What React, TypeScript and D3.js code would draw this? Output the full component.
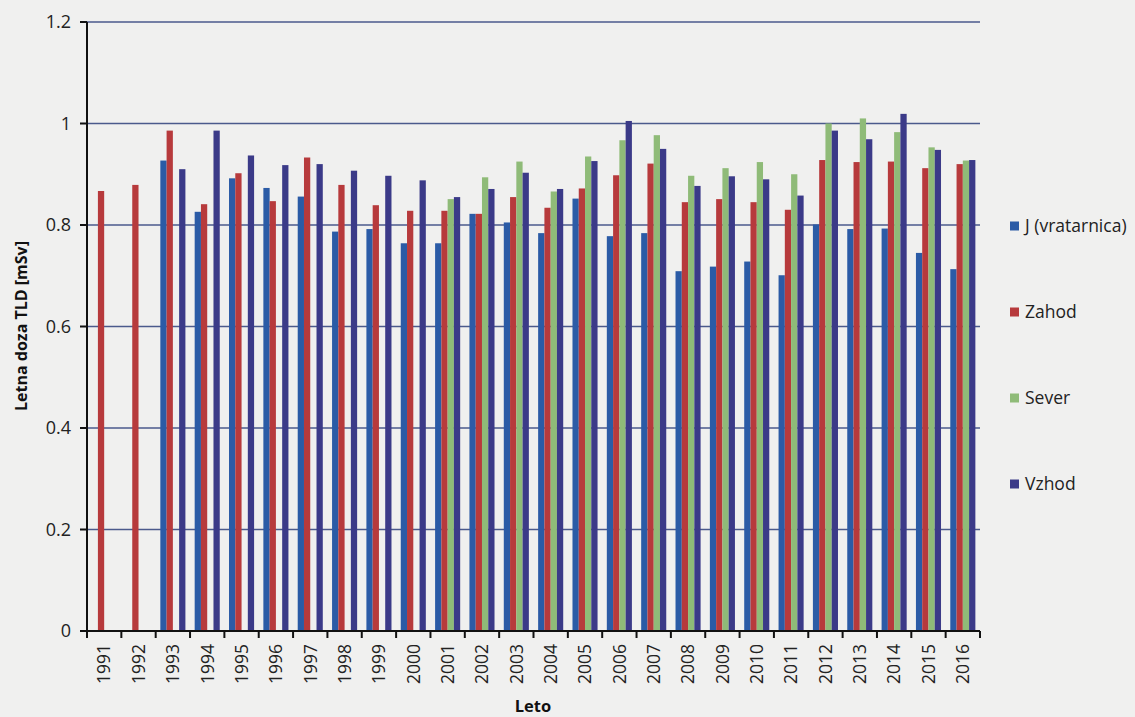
import React from "react";
import * as d3 from "d3";

const years = ["1991","1992","1993","1994","1995","1996","1997","1998","1999","2000","2001","2002","2003","2004","2005","2006","2007","2008","2009","2010","2011","2012","2013","2014","2015","2016"];
const seriesNames = ["J (vratarnica)", "Zahod", "Sever", "Vzhod"];
const jVals: (number | null)[] = [null, null, 0.927, 0.826, 0.892, 0.873, 0.856, 0.787, 0.792, 0.764, 0.764, 0.822, 0.805, 0.784, 0.852, 0.778, 0.784, 0.709, 0.718, 0.728, 0.701, 0.801, 0.792, 0.793, 0.745, 0.713];
const zahodVals: (number | null)[] = [0.867, 0.879, 0.986, 0.841, 0.902, 0.847, 0.933, 0.879, 0.839, 0.828, 0.828, 0.822, 0.855, 0.834, 0.872, 0.898, 0.921, 0.845, 0.851, 0.845, 0.830, 0.928, 0.924, 0.925, 0.912, 0.920];
const severVals: (number | null)[] = [null, null, null, null, null, null, null, null, null, null, 0.851, 0.894, 0.925, 0.866, 0.935, 0.967, 0.977, 0.897, 0.912, 0.924, 0.900, 1.000, 1.010, 0.983, 0.953, 0.927];
const vzhodVals: (number | null)[] = [null, null, 0.910, 0.986, 0.937, 0.918, 0.920, 0.907, 0.897, 0.888, 0.855, 0.871, 0.903, 0.871, 0.926, 1.005, 0.950, 0.877, 0.896, 0.890, 0.858, 0.986, 0.969, 1.019, 0.948, 0.928];
const yTicks = [0, 0.2, 0.4, 0.6, 0.8, 1, 1.2];
const colors = ["#2b5ba6", "#b73a3c", "#8fbb78", "#3b3a88"];

const W = 1135, H = 717;
const left = 87, right = 980, top = 22, bottom = 631;
const font = "'Open Sans', 'DejaVu Sans', sans-serif";

export default function App() {
  const allSeries = [jVals, zahodVals, severVals, vzhodVals];
  const x = d3.scaleBand<string>().domain(years).range([left, right]).paddingInner(0.27).paddingOuter(0.135);
  const inner = d3.scaleBand<number>().domain([0, 1, 2, 3]).range([0, x.bandwidth()]);
  const y = d3.scaleLinear().domain([0, 1.2]).range([bottom, top]);
  const step = (right - left) / years.length;

  return (
    <svg width={W} height={H} style={{ display: "block", position: "absolute", left: 0, top: 0, background: "#f0f0ef" }}>
      <rect x={0} y={0} width={W} height={H} fill="#f0f0ef" />
      {yTicks.filter(t => t > 0).map(t => (
        <line key={t} x1={left} x2={right} y1={y(t)} y2={y(t)} stroke="#4b5a8c" strokeWidth={1.6} />
      ))}
      {allSeries.map((vals, si) =>
        vals.map((v, i) => v == null ? null : (
          <rect key={`${si}-${i}`} x={(x(years[i]) as number) + (inner(si) as number)} y={y(v)}
            width={inner.bandwidth()} height={bottom - y(v)} fill={colors[si]} />
        ))
      )}
      <line x1={left} x2={left} y1={top} y2={bottom} stroke="#111" strokeWidth={2} />
      <line x1={left} x2={right} y1={bottom} y2={bottom} stroke="#111" strokeWidth={2} />
      {yTicks.map(t => (
        <g key={t}>
          <line x1={left - 7} x2={left} y1={y(t)} y2={y(t)} stroke="#111" strokeWidth={2} />
          <text x={71} y={y(t)} dy="0.35em" textAnchor="end" fontFamily={font} fontSize={18} fill="#222">{t === 0 ? "0" : t === 1 ? "1" : t.toFixed(1)}</text>
        </g>
      ))}
      {d3.range(years.length + 1).map(i => (
        <line key={i} x1={left + i * step} x2={left + i * step} y1={bottom} y2={bottom + 7} stroke="#111" strokeWidth={2} />
      ))}
      {years.map(yr => {
        const cx = (x(yr) as number) + x.bandwidth() / 2;
        return (
          <text key={yr} transform={`translate(${cx},${644}) rotate(-90)`} textAnchor="end" dy="0.36em"
            fontFamily={font} fontSize={17.5} fill="#222">{yr}</text>
        );
      })}
      <text transform={`translate(21,${326}) rotate(-90)`} textAnchor="middle" dy="0.35em"
        fontFamily={font} fontSize={16} fontWeight="bold" fill="#111">Letna doza TLD [mSv]</text>
      <text x={533} y={712} textAnchor="middle" fontFamily={font} fontSize={16.5} fontWeight="bold" fill="#111">Leto</text>
      {seriesNames.map((n, i) => {
        const ly = 226 + i * 86;
        return (
          <g key={n}>
            <rect x={1010} y={ly - 4.5} width={9} height={9} fill={colors[i]} />
            <text x={1025} y={ly} dy="0.35em" fontFamily={font} fontSize={17.5} fill="#222">{n}</text>
          </g>
        );
      })}
    </svg>
  );
}
